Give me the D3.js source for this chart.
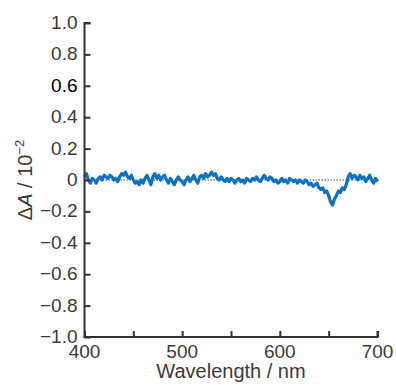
<!DOCTYPE html>
<html>
<head>
<meta charset="utf-8">
<script src="https://cdn.jsdelivr.net/npm/d3@7"></script>
<style>
  body { margin: 0; background: #fff; }
  svg { display: block; font-family: "Liberation Sans", Arial, Helvetica, sans-serif; }
</style>
</head>
<body>
<div id="chart"></div>
<script>
// wavelength grid (nm) and difference absorbance (x 10^-2)
const wavelengths = d3.range(400, 701, 2);
const deltaA = [
  0.02, 0.04, 0.00, -0.02, 0.01, 0.00, -0.02, 0.01, 0.02, 0.00,
  0.03, 0.02, 0.01, 0.03, 0.02, 0.00, 0.01, -0.01, 0.02, 0.04,
  0.03, 0.05, 0.02, 0.01, 0.03, 0.00, -0.02, -0.01, -0.03, 0.00,
  -0.02, 0.01, 0.03, 0.00, -0.03, 0.02, 0.04, 0.01, 0.03, 0.00,
  0.02, 0.03, 0.00, -0.02, 0.01, -0.01, -0.03, 0.00, 0.02, 0.00,
  -0.01, -0.03, 0.00, 0.02, -0.01, 0.01, 0.03, 0.00, -0.02, 0.02,
  0.03, 0.01, 0.04, 0.02, 0.03, 0.05, 0.03, 0.04, 0.01, 0.00,
  0.02, 0.00, -0.01, 0.01, -0.01, 0.01, 0.00, -0.02, 0.00, 0.01,
  -0.01, 0.00, -0.02, 0.01, 0.00, -0.01, 0.01, 0.00, 0.02, 0.00,
  -0.01, 0.01, 0.03, 0.01, 0.00, 0.02, 0.01, -0.01, 0.00, -0.02,
  -0.01, 0.01, -0.01, 0.00, -0.02, 0.01, 0.00, -0.01, 0.00, -0.02,
  0.00, -0.01, -0.02, 0.00, -0.01, -0.03, -0.02, -0.04, -0.03, -0.02,
  -0.05, -0.06, -0.05, -0.08, -0.07, -0.10, -0.14, -0.16, -0.12, -0.10,
  -0.07, -0.08, -0.05, -0.06, -0.03, 0.02, 0.04, 0.01, 0.03, 0.02,
  0.00, 0.03, 0.01, 0.02, -0.01, 0.01, 0.03, 0.00, -0.02, 0.01,
  -0.01
];
const xTicks = [400, 450, 500, 550, 600, 650, 700];
const xLabels = [400, 500, 600, 700];
const yTicks = [1.0, 0.8, 0.6, 0.4, 0.2, 0, -0.2, -0.4, -0.6, -0.8, -1.0];

const width = 396, height = 385;
const margin = {top: 23, right: 18.5, bottom: 48, left: 84.5};

const svg = d3.select('#chart')
  .append('svg')
  .attr('width', width)
  .attr('height', height);

const x = d3.scaleLinear().domain([400, 700]).range([margin.left, width - margin.right]);
const y = d3.scaleLinear().domain([-1, 1]).range([height - margin.bottom, margin.top]);

const axisColor = '#333';
const fmt = v => v === 0 ? '0' : d3.format('.1f')(v).replace('-', '\u2212');

// zero reference line (dotted)
svg.append('line')
  .attr('x1', x(400)).attr('x2', x(700))
  .attr('y1', y(0)).attr('y2', y(0))
  .attr('stroke', '#444')
  .attr('stroke-width', 1)
  .attr('stroke-dasharray', '1.5,1.5');

// data line
const line = d3.line()
  .x((d, i) => x(wavelengths[i]))
  .y(d => y(d));

svg.append('path')
  .datum(deltaA)
  .attr('d', line)
  .attr('fill', 'none')
  .attr('stroke', '#0b72c1')
  .attr('stroke-width', 3.2)
  .attr('stroke-linejoin', 'round');

// y axis, ticks pointing inward
const yAxis = svg.append('g')
  .attr('transform', `translate(${margin.left},0)`)
  .call(d3.axisRight(y).tickValues(yTicks).tickSize(6).tickFormat(''));
yAxis.select('.domain').attr('d', `M0,${y(-1) + 1}V${y(1)}H6`);
yAxis.selectAll('line, path').attr('stroke', axisColor).attr('stroke-width', 2);

svg.append('g').selectAll('text')
  .data(yTicks)
  .join('text')
  .attr('x', margin.left - 7)
  .attr('y', d => y(d) + 6)
  .attr('text-anchor', 'end')
  .attr('font-size', 19)
  .attr('fill', d => d === 0.6 ? '#000' : '#3a3a3a')
  .text(fmt);

// x axis, ticks pointing inward
const xAxis = svg.append('g')
  .attr('transform', `translate(0,${y(-1)})`)
  .call(d3.axisTop(x).tickValues(xTicks).tickSize(6).tickFormat(''));
xAxis.select('.domain').attr('d', `M${margin.left - 1},0H${x(700)}V-6`);
xAxis.selectAll('line, path').attr('stroke', axisColor).attr('stroke-width', 2);

svg.append('g').selectAll('text')
  .data(xLabels)
  .join('text')
  .attr('x', d => x(d))
  .attr('y', y(-1) + 21)
  .attr('text-anchor', 'middle')
  .attr('font-size', 19)
  .attr('fill', '#3a3a3a')
  .text(d => d);

// axis titles
svg.append('text')
  .attr('x', (x(400) + x(700)) / 2)
  .attr('y', 378)
  .attr('text-anchor', 'middle')
  .attr('font-size', 20)
  .attr('fill', '#3a3a3a')
  .text('Wavelength / nm');

const yTitle = svg.append('text')
  .attr('transform', `translate(32,${y(0)}) rotate(-90)`)
  .attr('text-anchor', 'middle')
  .attr('font-size', 20)
  .attr('fill', '#3a3a3a');
yTitle.append('tspan').text('\u0394');
yTitle.append('tspan').attr('font-style', 'italic').text('A');
yTitle.append('tspan').text(' / 10');
yTitle.append('tspan').attr('font-size', 13).attr('dy', -8).text('\u22122');
</script>
</body>
</html>
